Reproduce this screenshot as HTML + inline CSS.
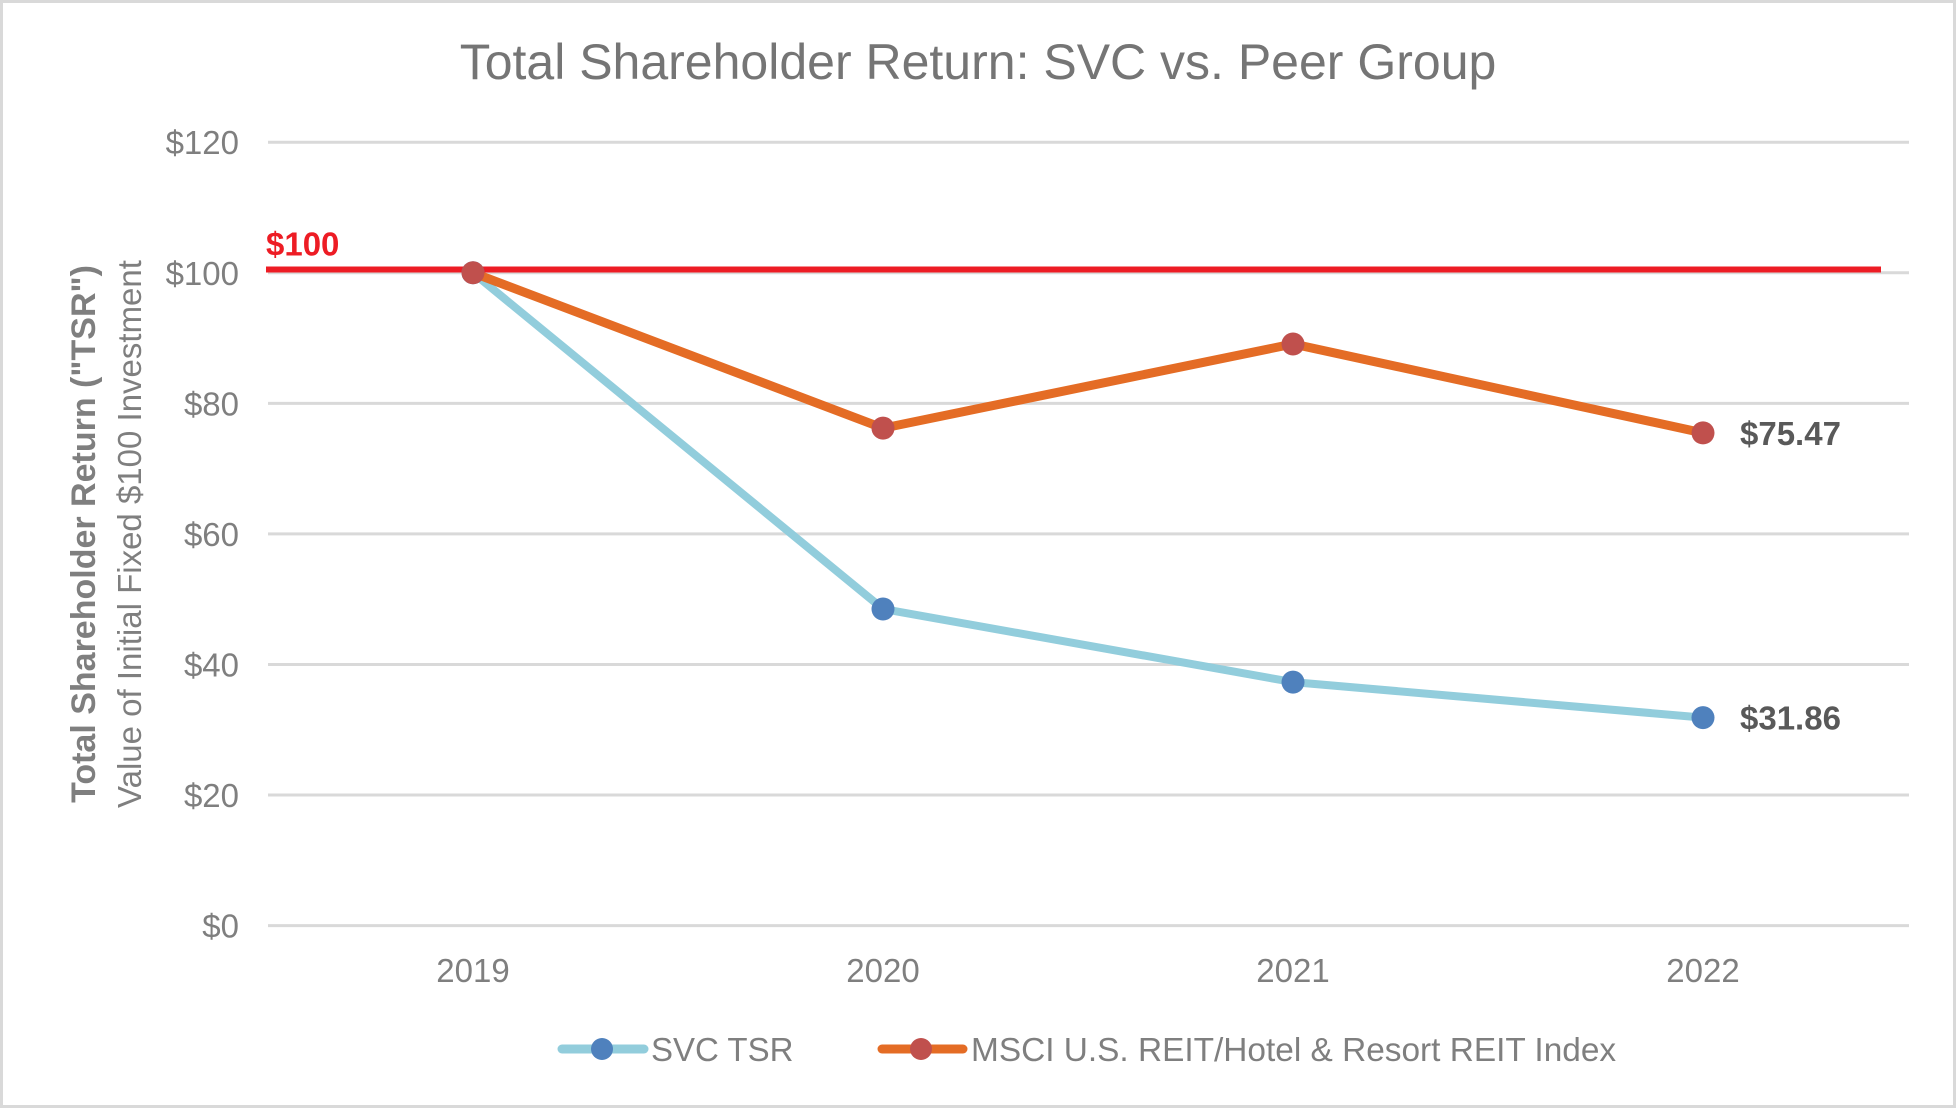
<!DOCTYPE html>
<html><head><meta charset="utf-8"><style>
html,body{margin:0;padding:0;background:#fff;}
svg{display:block;font-family:"Liberation Sans",Arial,sans-serif;}
</style></head><body>
<svg id="chart" width="1956" height="1109" viewBox="0 0 1956 1109" xmlns="http://www.w3.org/2000/svg">
<rect x="1.5" y="1.5" width="1953" height="1105" fill="#fff" stroke="#d9d9d9" stroke-width="3"/>
<text x="978" y="79" text-anchor="middle" font-size="50" fill="#757575">Total Shareholder Return: SVC vs. Peer Group</text>
<g id="grid"></g>
<g id="yticks"></g>
<g id="xticks"></g>
<g transform="translate(95,534) rotate(-90)">
<text x="0" y="0" text-anchor="middle" font-size="34" font-weight="bold" fill="#7f7f7f">Total Shareholder Return ("TSR")</text>
</g>
<g transform="translate(141,534) rotate(-90)">
<text x="0" y="0" text-anchor="middle" font-size="33" fill="#7f7f7f">Value of Initial Fixed $100 Investment</text>
</g>
<g id="refline"></g>
<g id="series"></g>
<g>
<g>
<line x1="562" y1="1049" x2="644" y2="1049" stroke="#92cddc" stroke-width="9" stroke-linecap="round"/>
<circle cx="602" cy="1049" r="11" fill="#4f81bd"/>
<text x="651" y="1061" font-size="33" fill="#7f7f7f">SVC TSR</text>
</g>
<g>
<line x1="882" y1="1049" x2="963" y2="1049" stroke="#e46c25" stroke-width="9" stroke-linecap="round"/>
<circle cx="921" cy="1049" r="11" fill="#c0504d"/>
<text x="971" y="1061" font-size="33.4" fill="#7f7f7f">MSCI U.S. REIT/Hotel &amp; Resort REIT Index</text>
</g>
</g>
</svg>
<script>
const categories = ["2019","2020","2021","2022"];
const svcValues = [100, 48.5, 37.3, 31.86];
const msciValues = [100, 76.2, 89.1, 75.47];
const yTicks = [0,20,40,60,80,100,120];
const yTickLabels = ["$0","$20","$40","$60","$80","$100","$120"];
const endLabels = ["$31.86","$75.47"];
const refValue = 100.5;

const NS="http://www.w3.org/2000/svg";
function y(v){return 925.6 - v*6.528;}
function x(i){return 473 + i*410;}
function mk(tag,attrs,parent){const e=document.createElementNS(NS,tag);for(const k in attrs)e.setAttribute(k,attrs[k]);parent.appendChild(e);return e;}
const grid=document.getElementById('grid'),yt=document.getElementById('yticks'),xt=document.getElementById('xticks'),ser=document.getElementById('series'),ref=document.getElementById('refline');
yTicks.forEach((v,i)=>{
  const l=mk('line',{x1:268,x2:1909,y1:y(v),y2:y(v),stroke:'#d9d9d9','stroke-width':3},grid);
  
  
  const t=mk('text',{x:239,y:y(v)+12,'text-anchor':'end','font-size':33,fill:'#7f7f7f'},yt);
  t.textContent=yTickLabels[i];
  
  
});
categories.forEach((c,i)=>{
  const t=mk('text',{x:x(i),y:982,'text-anchor':'middle','font-size':33,fill:'#7f7f7f'},xt);
  t.textContent=c;
  
  
});
const rl=mk('line',{x1:266,x2:1881,y1:y(refValue),y2:y(refValue),stroke:'#ed1c24','stroke-width':6},ref);


const rt=mk('text',{x:266,y:y(refValue)-14,'font-size':33,'font-weight':'bold',fill:'#ed1c24'},ref);
rt.textContent='$100';


function drawSeries(vals,lineColor,dotColor,name,width,label){
  const pts=vals.map((v,i)=>x(i)+','+y(v)).join(' ');
  const pl=mk('polyline',{points:pts,fill:'none',stroke:lineColor,'stroke-width':width,'stroke-linejoin':'round'},ser);
  
  
  vals.forEach((v,i)=>{
    const c=mk('circle',{cx:x(i),cy:y(v),r:11.5,fill:dotColor},ser);
    
    
  });
  const n=vals.length-1;
  const t=mk('text',{x:x(n)+37,y:y(vals[n])+12,'font-size':33,'font-weight':'bold',fill:'#595959'},ser);
  t.textContent=label;
  
  
}
drawSeries(svcValues,'#92cddc','#4f81bd','svc',8,endLabels[0]);
drawSeries(msciValues,'#e46c25','#c0504d','msci',9,endLabels[1]);
</script>
</body></html>
